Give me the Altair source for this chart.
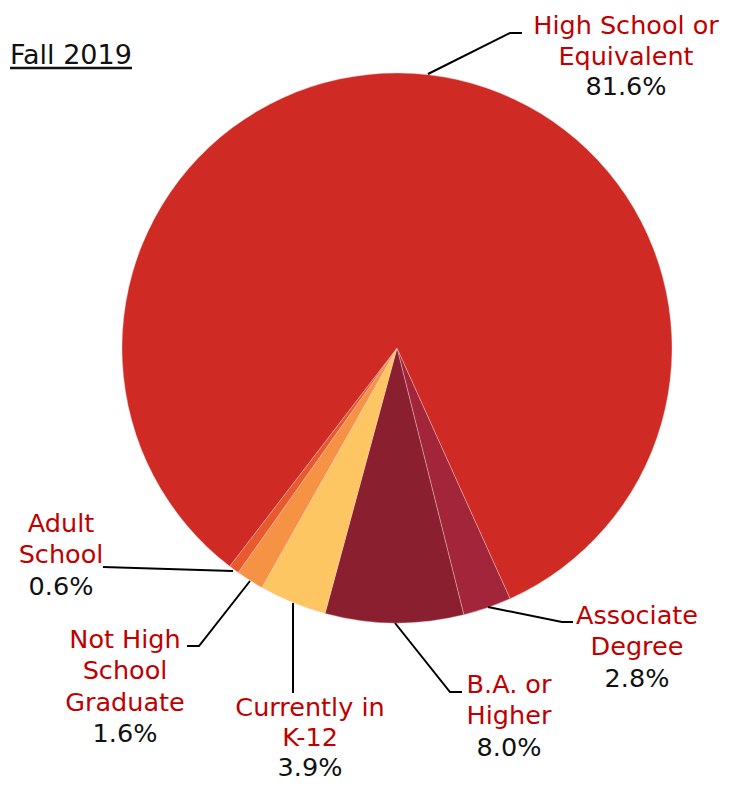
import math
import altair as alt
import pandas as pd

# ---- data ----
categories = ["Associate Degree", "B.A. or Higher", "Currently in K-12",
              "Not High School Graduate", "Adult School", "High School or Equivalent"]
values = [2.8, 8.0, 3.9, 1.6, 0.6, 81.6]
colors = ["#A2253A", "#8A1F30", "#FEC663", "#F59243", "#E85A2E", "#CF2A23"]

label_lines = [
    ["Associate", "Degree"],
    ["B.A. or", "Higher"],
    ["Currently in", "K-12"],
    ["Not High", "School", "Graduate"],
    ["Adult", "School"],
    ["High School or", "Equivalent"],
]

# ---- layout (pixel positions in chart coordinates) ----
OFF = 8
label_anchor = [(637, 615.5), (509, 684.5), (310, 708), (125, 639.5), (61, 523.5), (626, 26)]
line_h = [31.5, 31.5, 30, 31.5, 31.5, 30.5]
leaders = [
    [(488, 607), (562, 622), (573, 622)],
    [(395, 623), (450, 692), (462, 692)],
    [(293, 603), (293, 693)],
    [(250, 581), (199, 646), (187, 646)],
    [(233, 571), (103, 567)],
    [(428, 74), (510, 33), (522, 33)],
]
W, H = 713, 775
CX, CY, R = 397 - OFF, 348 - OFF, 275
START = math.radians(155.7)
FONT = "DejaVu Sans"
FS = 25.5
RED = "#C00000"

pie_df = pd.DataFrame({"category": categories, "value": values,
                       "order": list(range(len(categories)))})

text_rows = []
for cat, lines, val, (ax, ay), lh in zip(categories, label_lines, values, label_anchor, line_h):
    for i, ln in enumerate(lines + [f"{val:.1f}%"]):
        text_rows.append({"t": ln, "x": ax - OFF, "y": ay - OFF + i * lh,
                          "kind": "pct" if i == len(lines) else "name"})
text_df = pd.DataFrame(text_rows)

line_rows = []
for cat, pts in zip(categories, leaders):
    for i, (px, py) in enumerate(pts):
        line_rows.append({"category": cat, "i": i, "x": px - OFF, "y": py - OFF})
line_df = pd.DataFrame(line_rows)

xs = alt.Scale(domain=[0, W], range=[0, W])
ys = alt.Scale(domain=[0, H], range=[0, H])

pie = alt.Chart(pie_df).mark_arc(radius=R, stroke="#f4d0d0", strokeWidth=0.4).encode(
    theta=alt.Theta("value:Q", stack=True,
                    scale=alt.Scale(range=[START, START + 2 * math.pi])),
    order=alt.Order("order:Q"),
    color=alt.Color("category:N", scale=alt.Scale(domain=categories, range=colors),
                    legend=None),
    x=alt.value(CX), y=alt.value(CY),
)

leader = alt.Chart(line_df).mark_line(color="black", strokeWidth=2).encode(
    x=alt.X("x:Q", scale=xs, axis=None),
    y=alt.Y("y:Q", scale=ys, axis=None),
    detail="category:N",
    order="i:Q",
)

names = alt.Chart(text_df).transform_filter(alt.datum.kind == "name").mark_text(
    font=FONT, fontSize=FS, baseline="middle", align="center", color=RED).encode(
    x=alt.X("x:Q", scale=xs, axis=None),
    y=alt.Y("y:Q", scale=ys, axis=None),
    text="t:N",
)
pcts = alt.Chart(text_df).transform_filter(alt.datum.kind == "pct").mark_text(
    font=FONT, fontSize=FS, baseline="middle", align="center", color="#111111").encode(
    x=alt.X("x:Q", scale=xs, axis=None),
    y=alt.Y("y:Q", scale=ys, axis=None),
    text="t:N",
)

title_df = pd.DataFrame({"t": ["Fall 2019"], "x": [10 - OFF], "y": [64 - OFF]})
title = alt.Chart(title_df).mark_text(font=FONT, fontSize=27, align="left",
                                      baseline="alphabetic", color="#111111").encode(
    x=alt.X("x:Q", scale=xs, axis=None),
    y=alt.Y("y:Q", scale=ys, axis=None),
    text="t:N",
)
underline = alt.Chart(title_df).mark_rule(color="#111111", strokeWidth=2.5).encode(
    x=alt.value(10 - OFF), x2=alt.value(132 - OFF), y=alt.value(68 - OFF),
)

chart = alt.layer(pie, leader, names, pcts, title, underline).properties(
    width=W, height=H, padding=0, autosize=alt.AutoSizeParams(type="none"),
).configure_view(stroke=None)

chart.save("out.html", embed_options={"renderer": "svg", "actions": False})
